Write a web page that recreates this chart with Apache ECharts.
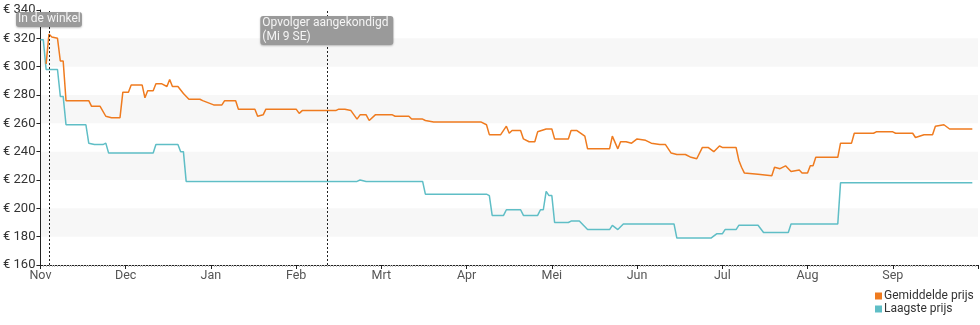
<!DOCTYPE html>
<html>
<head>
<meta charset="utf-8">
<script src="https://cdn.jsdelivr.net/npm/echarts@6/dist/echarts.min.js"></script>
<style>
  html, body { margin: 0; padding: 0; background: #fff; }
  #chart { width: 980px; height: 325px; }
</style>
</head>
<body>
<div id="chart"></div>
<script>
// Month labels along the x axis (Nov 2018 – Sep 2019)
const monthLabels = ['Nov', 'Dec', 'Jan', 'Feb', 'Mrt', 'Apr', 'Mei', 'Jun', 'Jul', 'Aug', 'Sep'];

// Price ticks on the y axis
const priceMin = 160, priceMax = 340, priceStep = 20;

// Average price (Gemiddelde prijs), [date, euro]
const avgPrices = [
  ['2018-11-03', 302], ['2018-11-04', 323], ['2018-11-05', 321], ['2018-11-07', 320],
  ['2018-11-08', 304], ['2018-11-09', 304], ['2018-11-10', 276], ['2018-11-18', 276],
  ['2018-11-19', 272], ['2018-11-22', 272], ['2018-11-24', 265], ['2018-11-26', 264],
  ['2018-11-29', 264], ['2018-11-30', 282], ['2018-12-02', 282], ['2018-12-03', 287],
  ['2018-12-07', 287], ['2018-12-08', 278], ['2018-12-09', 283], ['2018-12-11', 283],
  ['2018-12-12', 288], ['2018-12-14', 288], ['2018-12-16', 286], ['2018-12-17', 291],
  ['2018-12-18', 286], ['2018-12-20', 286], ['2018-12-22', 281], ['2018-12-24', 277],
  ['2018-12-28', 277], ['2018-12-29', 276], ['2019-01-02', 273], ['2019-01-05', 273],
  ['2019-01-06', 276], ['2019-01-10', 276], ['2019-01-11', 270], ['2019-01-17', 270],
  ['2019-01-18', 265], ['2019-01-20', 266], ['2019-01-21', 270], ['2019-02-01', 270],
  ['2019-02-02', 267], ['2019-02-03', 269], ['2019-02-14', 269], ['2019-02-15', 270],
  ['2019-02-17', 270], ['2019-02-19', 269], ['2019-02-21', 263], ['2019-02-22', 266],
  ['2019-02-24', 266], ['2019-02-25', 262], ['2019-02-27', 266], ['2019-03-05', 266],
  ['2019-03-06', 265], ['2019-03-11', 265], ['2019-03-12', 263], ['2019-03-16', 263],
  ['2019-03-17', 262], ['2019-03-20', 261], ['2019-04-06', 261], ['2019-04-08', 259],
  ['2019-04-09', 252], ['2019-04-13', 252], ['2019-04-15', 258], ['2019-04-16', 253],
  ['2019-04-17', 255], ['2019-04-20', 255], ['2019-04-21', 249], ['2019-04-23', 247],
  ['2019-04-25', 247], ['2019-04-26', 254], ['2019-04-29', 256], ['2019-05-01', 256],
  ['2019-05-02', 249], ['2019-05-07', 249], ['2019-05-08', 255], ['2019-05-10', 255],
  ['2019-05-13', 251], ['2019-05-14', 242], ['2019-05-22', 242], ['2019-05-23', 251],
  ['2019-05-25', 242], ['2019-05-26', 247], ['2019-05-28', 247], ['2019-05-30', 246],
  ['2019-06-01', 249], ['2019-06-04', 248], ['2019-06-06', 246], ['2019-06-09', 245],
  ['2019-06-11', 245], ['2019-06-13', 239], ['2019-06-15', 238], ['2019-06-18', 238],
  ['2019-06-20', 236], ['2019-06-22', 235], ['2019-06-24', 243], ['2019-06-26', 243],
  ['2019-06-28', 240], ['2019-06-30', 244], ['2019-07-01', 243], ['2019-07-06', 243],
  ['2019-07-07', 234], ['2019-07-08', 229], ['2019-07-09', 225], ['2019-07-14', 224],
  ['2019-07-19', 223], ['2019-07-20', 229], ['2019-07-22', 228], ['2019-07-24', 230],
  ['2019-07-26', 226], ['2019-07-29', 227], ['2019-07-30', 225], ['2019-08-01', 225],
  ['2019-08-02', 230], ['2019-08-03', 230], ['2019-08-04', 236], ['2019-08-07', 236],
  ['2019-08-12', 236], ['2019-08-13', 246], ['2019-08-17', 246], ['2019-08-18', 253],
  ['2019-08-25', 253], ['2019-08-26', 254], ['2019-09-01', 254], ['2019-09-02', 253],
  ['2019-09-08', 253], ['2019-09-09', 250], ['2019-09-12', 252], ['2019-09-15', 252],
  ['2019-09-16', 258], ['2019-09-19', 259], ['2019-09-21', 256], ['2019-09-29', 256]
];

// Lowest price (Laagste prijs), [date, euro]
const lowPrices = [
  ['2018-11-01', 319], ['2018-11-02', 319], ['2018-11-03', 298], ['2018-11-07', 298],
  ['2018-11-08', 279], ['2018-11-09', 279], ['2018-11-10', 259], ['2018-11-17', 259],
  ['2018-11-18', 246], ['2018-11-20', 245], ['2018-11-23', 245], ['2018-11-24', 246],
  ['2018-11-25', 239], ['2018-12-11', 239], ['2018-12-12', 245], ['2018-12-20', 245],
  ['2018-12-21', 240], ['2018-12-22', 240], ['2018-12-23', 219], ['2019-02-21', 219],
  ['2019-02-22', 220], ['2019-02-24', 219], ['2019-03-16', 219], ['2019-03-17', 210],
  ['2019-04-08', 210], ['2019-04-09', 209], ['2019-04-10', 195], ['2019-04-14', 195],
  ['2019-04-15', 199], ['2019-04-20', 199], ['2019-04-21', 195], ['2019-04-26', 195],
  ['2019-04-27', 199], ['2019-04-28', 199], ['2019-04-29', 212], ['2019-04-30', 209],
  ['2019-05-01', 209], ['2019-05-02', 190], ['2019-05-07', 190], ['2019-05-08', 191],
  ['2019-05-11', 191], ['2019-05-14', 185], ['2019-05-22', 185], ['2019-05-23', 188],
  ['2019-05-25', 185], ['2019-05-27', 189], ['2019-06-14', 189], ['2019-06-15', 179],
  ['2019-06-27', 179], ['2019-06-29', 182], ['2019-07-01', 182], ['2019-07-02', 185],
  ['2019-07-06', 185], ['2019-07-07', 188], ['2019-07-14', 188], ['2019-07-16', 183],
  ['2019-07-25', 183], ['2019-07-26', 189], ['2019-08-12', 189], ['2019-08-13', 218],
  ['2019-09-29', 218]
];

// Events marked with a dotted vertical line
const eventDates = ['2018-11-04', '2019-02-11'];
const eventLines = [['In de winkel'], ['Opvolger aangekondigd', '(Mi 9 SE)']];

// Every month gets the same width on the axis: position = month index + fraction of the month
const startYear = 2018, startMonth = 10;
function monthPos(iso) {
  const [y, m, d] = iso.split('-').map(Number);
  const idx = (y - startYear) * 12 + (m - 1 - startMonth);
  const days = new Date(y, m, 0).getDate();
  return idx + (d - 1) / days;
}
const toPoints = rows => rows.map(([date, price]) => [monthPos(date), price]);

const fontFamily = 'Roboto, "Noto Sans", sans-serif';
const orange = '#ef7b1f';
const teal = '#5fbec6';

function eventMark(i) {
  const lines = eventLines[i];
  const width = i === 0 ? 62 : 129;
  return {
    xAxis: monthPos(eventDates[i]),
    label: {
      show: true,
      position: 'end',
      distance: i === 0 ? -17 : -35,
      formatter: lines.map(t => '{t|' + t + '}').join('\n'),
      backgroundColor: '#9a9a9a',
      borderRadius: 3,
      padding: [0, 2, 1, 2],
      shadowColor: 'rgba(0,0,0,0.25)',
      shadowBlur: 2,
      shadowOffsetY: 1,
      rich: {
        t: { width: width, align: 'left', color: '#f4f4f4', fontSize: 12, lineHeight: 14, fontFamily: fontFamily }
      }
    }
  };
}

const chart = echarts.init(document.getElementById('chart'), null, { renderer: 'canvas' });
chart.setOption({
  animation: false,
  textStyle: { fontFamily: fontFamily },
  grid: { left: 40, right: 2, top: 10, bottom: 60, containLabel: false },
  legend: {
    orient: 'vertical',
    left: 875,
    top: 290,
    padding: 0,
    itemGap: 1,
    itemWidth: 7,
    itemHeight: 7,
    icon: 'rect',
    textStyle: { fontSize: 12, color: '#333', fontFamily: fontFamily, padding: [0, 0, 0, -3] },
    data: ['Gemiddelde prijs', 'Laagste prijs']
  },
  xAxis: {
    type: 'value',
    min: 0,
    max: monthLabels.length,
    interval: 1,
    axisLine: { show: true, lineStyle: { color: '#222', width: 1 } },
    axisTick: { show: true, length: 4, lineStyle: { color: '#222' } },
    minorTick: { show: true, splitNumber: 30, length: 2, lineStyle: { color: '#bbb' } },
    splitLine: { show: false },
    axisLabel: {
      color: '#555',
      fontSize: 12.5,
      margin: 4,
      showMaxLabel: false,
      formatter: v => monthLabels[v] || ''
    }
  },
  yAxis: {
    type: 'value',
    min: priceMin,
    max: priceMax,
    interval: priceStep,
    axisLine: { show: true, lineStyle: { color: '#222', width: 1 } },
    axisTick: { show: true, length: 4, lineStyle: { color: '#222' } },
    splitLine: { show: false },
    splitArea: { show: true, areaStyle: { color: ['rgba(255,255,255,0)', '#f7f7f7'] } },
    axisLabel: { color: '#333', fontSize: 13, margin: 5, formatter: v => '€ ' + v }
  },
  series: [
    {
      name: 'Gemiddelde prijs',
      type: 'line',
      data: toPoints(avgPrices),
      showSymbol: false,
      color: orange,
      lineStyle: { color: orange, width: 1.5 },
      z: 3,
      markLine: {
        silent: true,
        symbol: 'none',
        lineStyle: { color: '#222', type: [2, 2], width: 1 },
        data: eventDates.map((d, i) => eventMark(i))
      }
    },
    {
      name: 'Laagste prijs',
      type: 'line',
      data: toPoints(lowPrices),
      showSymbol: false,
      color: teal,
      lineStyle: { color: teal, width: 1.5 },
      z: 2
    }
  ]
});
</script>
</body>
</html>
